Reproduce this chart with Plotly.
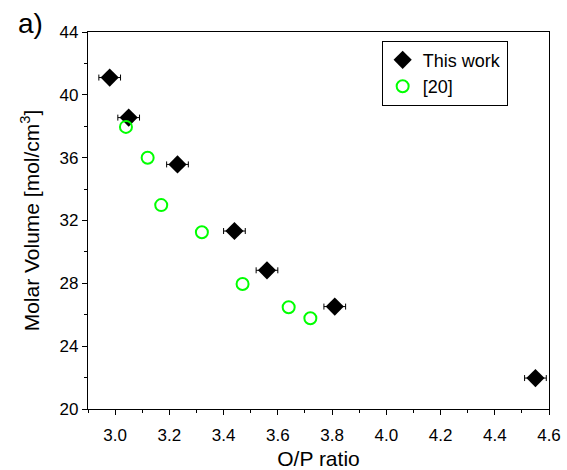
import plotly.graph_objects as go

# This work
tw_x = [2.98, 3.05, 3.23, 3.44, 3.56, 3.81, 4.55]
tw_y = [41.1, 38.55, 35.57, 31.33, 28.83, 26.52, 21.97]
tw_xerr = [0.04, 0.04, 0.04, 0.04, 0.04, 0.04, 0.04]

# Reference [20]
ref_x = [3.04, 3.12, 3.17, 3.32, 3.47, 3.64, 3.72]
ref_y = [37.96, 35.99, 32.98, 31.25, 27.96, 26.48, 25.78]

FONT = "Arial, 'Liberation Sans', sans-serif"

fig = go.Figure()
fig.add_trace(go.Scatter(
    x=tw_x, y=tw_y, mode="markers", name="This work",
    marker=dict(symbol="diamond", size=14, color="black"),
    error_x=dict(type="data", array=tw_xerr, color="black", thickness=1, width=3),
))
fig.add_trace(go.Scatter(
    x=ref_x, y=ref_y, mode="markers", name="[20]",
    marker=dict(symbol="circle-open", size=12, color="#00ff00", line=dict(width=2, color="#00ff00")),
))

axis_common = dict(
    showline=True, linecolor="black", linewidth=1.3, mirror=True,
    ticks="outside", ticklen=5, tickcolor="black", tickwidth=1,
    showgrid=False, zeroline=False, automargin=False,
    tickfont=dict(family=FONT, size=17, color="black"),
)

fig.update_xaxes(
    range=[2.9, 4.6], dtick=0.2, tick0=3.0, tickformat=".1f",
    minor=dict(dtick=0.1, tick0=2.9, ticks="outside", ticklen=3, tickcolor="black"),
    title=dict(text="O/P ratio", font=dict(family=FONT, size=21, color="black"), standoff=10),
    ticklabelstandoff=5,
    **axis_common,
)
fig.update_yaxes(
    range=[20, 44], dtick=4, tick0=20,
    minor=dict(dtick=2, tick0=20, ticks="outside", ticklen=3, tickcolor="black"),
    title=dict(text="Molar Volume [mol/cm<sup>3</sup>]", font=dict(family=FONT, size=21, color="black"), standoff=14),
    **axis_common,
)

fig.update_layout(
    width=567, height=470,
    margin=dict(l=88, r=18, t=32, b=61),
    plot_bgcolor="white", paper_bgcolor="white",
    font=dict(family=FONT, color="black"),
    legend=dict(
        x=0.637, y=0.977, xanchor="left", yanchor="top",
        bordercolor="black", borderwidth=1, bgcolor="white",
        font=dict(family=FONT, size=18, color="black"),
        tracegroupgap=0, itemsizing="trace",
    ),
    showlegend=True,
    annotations=[dict(
        text="a)", xref="paper", yref="paper", x=-0.157, y=1.022,
        xanchor="left", yanchor="middle", showarrow=False,
        font=dict(family=FONT, size=28, color="black"),
    )],
)

fig.write_html("out.html")
